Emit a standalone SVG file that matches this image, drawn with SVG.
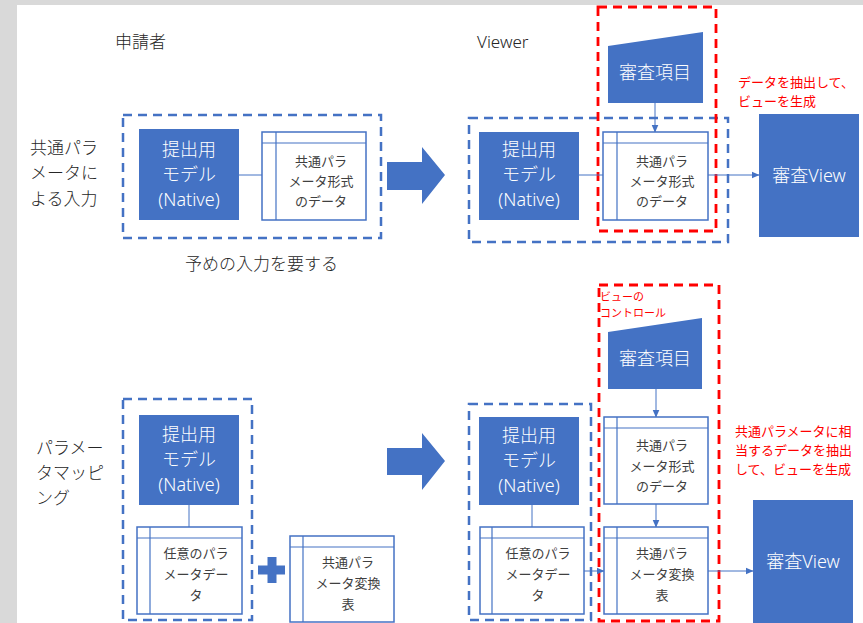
<svg xmlns="http://www.w3.org/2000/svg" width="863" height="623" viewBox="0 0 863 623">
<defs>
<marker id="ah" viewBox="0 0 8 8" refX="7.5" refY="4" markerWidth="8" markerHeight="8" markerUnits="userSpaceOnUse" orient="auto">
<path d="M0,0.5 L8,4 L0,7.5 Z" fill="#4472C4"/>
</marker>
<style>
text{font-family:"Noto Sans CJK JP","Noto Sans",sans-serif;}
.lab{font-size:17px;fill:#262626;font-weight:300;}
.wt{font-size:18px;fill:#ffffff;text-anchor:middle;font-weight:300;}
.dt{font-size:13px;fill:#404040;text-anchor:middle;}
.red{font-size:13px;fill:#FF0000;}
.fill{fill:#4472C4;}
.store{fill:#ffffff;stroke:#4472C4;stroke-width:1.5;}
.sl{stroke:#4472C4;stroke-width:1.2;fill:none;}
.bd{fill:none;stroke:#4472C4;stroke-width:2.5;stroke-dasharray:9 6;}
.rd{fill:none;stroke:#FF0000;stroke-width:2.8;stroke-dasharray:9 6;}
.cn{stroke:#4472C4;stroke-width:1;fill:none;}
</style>
</defs>
<rect x="0" y="0" width="863" height="623" fill="#d9d9d9"/>
<rect x="17" y="5" width="846" height="618" fill="#ffffff"/>

<g id="labels">
<text class="lab" x="115" y="48">申請者</text>
<text class="lab" x="477" y="48" style="font-family:'Noto Sans',sans-serif">Viewer</text>
<text class="lab" x="30" y="154">共通パラ</text>
<text class="lab" x="30" y="179">メータに</text>
<text class="lab" x="30" y="205">よる入力</text>
<text class="lab" x="185" y="270">予めの入力を要する</text>
<text class="lab" x="36" y="454">パラメー</text>
<text class="lab" x="36" y="479">タマッピ</text>
<text class="lab" x="36" y="504">ング</text>
<text class="red" x="738" y="87">データを抽出して、</text>
<text class="red" x="738" y="106">ビューを生成</text>
<text class="red" x="735" y="436">共通パラメータに相</text>
<text class="red" x="735" y="455">当するデータを抽出</text>
<text class="red" x="735" y="474">して、ビューを生成</text>
<text class="red" x="600" y="301" style="font-size:11px">ビューの</text>
<text class="red" x="600" y="317" style="font-size:11px">コントロール</text>
</g>

<g id="groups">
<rect id="g-applicant-top" class="bd" x="123" y="115" width="258" height="123"/>
<rect id="g-viewer-top" class="bd" x="469" y="118" width="259" height="124"/>
<rect id="g-control-top" class="rd" x="598" y="7" width="118" height="224"/>
<rect id="g-applicant-bottom" class="bd" x="123" y="399" width="129" height="221"/>
<rect id="g-viewer-bottom" class="bd" x="469" y="404" width="122" height="216"/>
<rect id="g-control-bottom" class="rd" x="599" y="285" width="120" height="336"/>
</g>

<g id="connectors">
<line class="cn" x1="239" y1="175" x2="262" y2="175"/>
<line class="cn" x1="579" y1="175" x2="603" y2="175"/>
<line class="cn" x1="655" y1="103" x2="655" y2="132" marker-end="url(#ah)"/>
<line class="cn" x1="708" y1="175" x2="759" y2="175" marker-end="url(#ah)"/>
<line class="cn" x1="189" y1="505" x2="189" y2="527"/>
<line class="cn" x1="532" y1="505" x2="532" y2="527"/>
<line class="cn" x1="584" y1="571" x2="604" y2="571" marker-end="url(#ah)"/>
<line class="cn" x1="656" y1="389" x2="656" y2="417" marker-end="url(#ah)"/>
<line class="cn" x1="656" y1="504" x2="656" y2="527" marker-end="url(#ah)"/>
<line class="cn" x1="708" y1="571" x2="753" y2="571" marker-end="url(#ah)"/>
<polygon class="fill" points="387,162 422,162 422,147 445,175 422,204 422,190 387,190"/>
<polygon class="fill" points="387,448 422,448 422,433 445,461 422,490 422,475 387,475"/>
</g>

<g id="n-model-top-app">
<rect class="fill" x="139" y="129" width="100" height="91"/>
<text class="wt" x="189" y="156">提出用</text>
<text class="wt" x="189" y="181">モデル</text>
<text class="wt" x="189" y="206" style="font-family:'Noto Sans',sans-serif">(Native)</text>
</g>
<g id="n-data-top-app">
<rect class="store" x="262" y="132" width="104" height="88"/>
<line class="sl" x1="262" y1="143" x2="366" y2="143"/>
<line class="sl" x1="276" y1="132" x2="276" y2="220"/>
<text class="dt" x="321" y="166">共通パラ</text>
<text class="dt" x="321" y="186">メータ形式</text>
<text class="dt" x="321" y="206">のデータ</text>
</g>

<g id="n-model-top-view">
<rect class="fill" x="479" y="132" width="100" height="88"/>
<text class="wt" x="529" y="156">提出用</text>
<text class="wt" x="529" y="181">モデル</text>
<text class="wt" x="529" y="206" style="font-family:'Noto Sans',sans-serif">(Native)</text>
</g>
<g id="n-data-top-view">
<rect class="store" x="603" y="132" width="105" height="88"/>
<line class="sl" x1="603" y1="143" x2="708" y2="143"/>
<line class="sl" x1="617" y1="132" x2="617" y2="220"/>
<text class="dt" x="662" y="166">共通パラ</text>
<text class="dt" x="662" y="186">メータ形式</text>
<text class="dt" x="662" y="206">のデータ</text>
</g>
<g id="n-review-top">
<polygon class="fill" points="608,46 703,32 703,103 608,103"/>
<text class="wt" x="655" y="79">審査項目</text>
</g>
<g id="n-view-top">
<rect class="fill" x="759" y="114" width="100" height="123"/>
<text class="wt" x="809" y="182">審査<tspan style="font-family:'Noto Sans',sans-serif">View</tspan></text>
</g>

<g id="n-model-bottom-app">
<rect class="fill" x="139" y="415" width="100" height="90"/>
<text class="wt" x="189" y="441">提出用</text>
<text class="wt" x="189" y="466">モデル</text>
<text class="wt" x="189" y="491" style="font-family:'Noto Sans',sans-serif">(Native)</text>
</g>
<g id="n-any-bottom-app">
<rect class="store" x="137" y="527" width="105" height="87"/>
<line class="sl" x1="137" y1="538" x2="242" y2="538"/>
<line class="sl" x1="150" y1="527" x2="150" y2="614"/>
<text class="dt" x="196" y="558">任意のパラ</text>
<text class="dt" x="196" y="579">メータデー</text>
<text class="dt" x="196" y="600">タ</text>
</g>
<g id="n-plus">
<polygon class="fill" points="267.5,557 276.5,557 276.5,565.5 285,565.5 285,574.5 276.5,574.5 276.5,583 267.5,583 267.5,574.5 258,574.5 258,565.5 267.5,565.5"/>
</g>
<g id="n-conv-bottom-app">
<rect class="store" x="290" y="536" width="104" height="86"/>
<line class="sl" x1="290" y1="547" x2="394" y2="547"/>
<line class="sl" x1="303" y1="536" x2="303" y2="622"/>
<text class="dt" x="348" y="567">共通パラ</text>
<text class="dt" x="348" y="588">メータ変換</text>
<text class="dt" x="348" y="609">表</text>
</g>

<g id="n-model-bottom-view">
<rect class="fill" x="479" y="417" width="100" height="88"/>
<text class="wt" x="529" y="442">提出用</text>
<text class="wt" x="529" y="467">モデル</text>
<text class="wt" x="529" y="492" style="font-family:'Noto Sans',sans-serif">(Native)</text>
</g>
<g id="n-any-bottom-view">
<rect class="store" x="480" y="527" width="104" height="87"/>
<line class="sl" x1="480" y1="538" x2="584" y2="538"/>
<line class="sl" x1="492" y1="527" x2="492" y2="614"/>
<text class="dt" x="538" y="558">任意のパラ</text>
<text class="dt" x="538" y="579">メータデー</text>
<text class="dt" x="538" y="600">タ</text>
</g>
<g id="n-review-bottom">
<polygon class="fill" points="608,332 702,318 702,389 608,389"/>
<text class="wt" x="655" y="365">審査項目</text>
</g>
<g id="n-data-bottom-view">
<rect class="store" x="604" y="417" width="104" height="87"/>
<line class="sl" x1="604" y1="428" x2="708" y2="428"/>
<line class="sl" x1="617" y1="417" x2="617" y2="504"/>
<text class="dt" x="662" y="450">共通パラ</text>
<text class="dt" x="662" y="471">メータ形式</text>
<text class="dt" x="662" y="491">のデータ</text>
</g>
<g id="n-conv-bottom-view">
<rect class="store" x="604" y="527" width="104" height="87"/>
<line class="sl" x1="604" y1="538" x2="708" y2="538"/>
<line class="sl" x1="617" y1="527" x2="617" y2="614"/>
<text class="dt" x="662" y="558">共通パラ</text>
<text class="dt" x="662" y="579">メータ変換</text>
<text class="dt" x="662" y="600">表</text>
</g>
<g id="n-view-bottom">
<rect class="fill" x="753" y="500" width="100" height="125"/>
<text class="wt" x="803" y="568">審査<tspan style="font-family:'Noto Sans',sans-serif">View</tspan></text>
</g>
</svg>
